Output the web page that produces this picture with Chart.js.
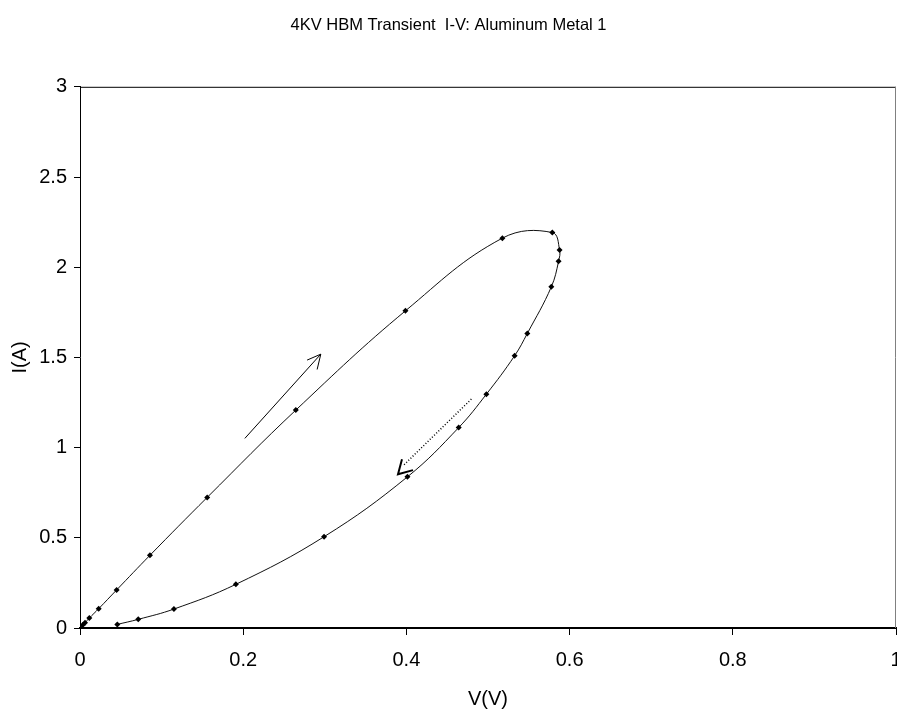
<!DOCTYPE html>
<html>
<head>
<meta charset="utf-8">
<script src="https://cdn.jsdelivr.net/npm/chart.js@4/dist/chart.umd.min.js"></script>
<style>
  html, body { margin: 0; padding: 0; background: #fff; overflow: hidden; }
  #wrap { width: 900px; height: 715px; }
</style>
</head>
<body>
<div id="wrap"><canvas id="c" width="900" height="715"></canvas></div>
<script>
// Measured I-V loop (V in volts, I in amps), in drawing order
const voltage = [0, 0.0033, 0.0061, 0.0114, 0.0229, 0.0449, 0.0857, 0.1559, 0.2645, 0.3988,
  0.5176, 0.5788, 0.5877, 0.5865, 0.5776, 0.5482, 0.5326, 0.4980, 0.4641, 0.4013,
  0.2991, 0.1910, 0.1151, 0.0714, 0.0457];
const current = [0, 0.017, 0.029, 0.055, 0.107, 0.211, 0.403, 0.724, 1.208, 1.758,
  2.161, 2.192, 2.096, 2.033, 1.891, 1.633, 1.509, 1.296, 1.111, 0.838,
  0.506, 0.242, 0.105, 0.048, 0.020];

// Direction arrows (data coordinates)
const upArrowV = [0.2020, 0.2951];
const upArrowI = [1.051, 1.518];
const upHeadV = [0.2783, 0.2951, 0.2906];
const upHeadI = [1.485, 1.518, 1.433];
const downArrowV = [0.4796, 0.3967];
const downArrowI = [1.269, 0.903];
const downHeadV = [0.3946, 0.3897, 0.4081];
const downHeadI = [0.936, 0.852, 0.875];

const xTicks = [0, 0.2, 0.4, 0.6, 0.8, 1];
const xTickLabels = ['0', '0.2', '0.4', '0.6', '0.8', '1'];
const yTicks = [0, 0.5, 1, 1.5, 2, 2.5, 3];
const yTickLabels = ['0', '0.5', '1', '1.5', '2', '2.5', '3'];

const pts = (xs, ys) => xs.map((x, i) => ({ x: x, y: ys[i] }));
const FONT = 'Liberation Sans, Arial, sans-serif';

const borderPlugin = {
  id: 'plotBorder',
  afterDraw(chart) {
    const a = chart.chartArea, ctx = chart.ctx;
    ctx.save();
    ctx.lineWidth = 1;
    ctx.strokeStyle = '#000';
    ctx.beginPath();
    ctx.moveTo(a.left, a.top + 0.5);
    ctx.lineTo(a.right, a.top + 0.5);
    ctx.stroke();
    ctx.strokeStyle = '#808080';
    ctx.beginPath();
    ctx.moveTo(a.right - 0.5, a.top);
    ctx.lineTo(a.right - 0.5, a.bottom);
    ctx.stroke();
    ctx.restore();
  }
};

const lineDs = (data, extra) => Object.assign({
  data: data, showLine: true, tension: 0, pointRadius: 0,
  borderColor: '#000', borderWidth: 1, fill: false
}, extra || {});

new Chart(document.getElementById('c'), {
  type: 'scatter',
  data: {
    datasets: [
      {
        data: pts(voltage, current),
        showLine: true,
        tension: 0.4,
        borderColor: '#111',
        borderWidth: 1,
        pointStyle: 'rectRot',
        pointRadius: 3,
        pointBackgroundColor: '#000',
        pointBorderColor: '#000',
        pointBorderWidth: 0,
        fill: false
      },
      lineDs(pts(upArrowV, upArrowI)),
      lineDs(pts(upHeadV, upHeadI)),
      lineDs(pts(downArrowV, downArrowI), { borderDash: [1, 2], borderWidth: 1.5 }),
      lineDs(pts(downHeadV, downHeadI), { borderWidth: 2 })
    ]
  },
  options: {
    responsive: false,
    animation: false,
    events: [],
    layout: { padding: { left: 0, right: 3, top: 0, bottom: 0 } },
    plugins: {
      legend: { display: false },
      tooltip: { enabled: false },
      title: {
        display: true,
        text: '4KV HBM Transient  I-V: Aluminum Metal 1',
        color: '#000',
        font: { family: FONT, size: 16.5, weight: 'normal' },
        padding: { top: 16, bottom: 51 }
      }
    },
    scales: {
      x: {
        type: 'linear',
        min: 0, max: 1,
        afterBuildTicks(s) { s.ticks = xTicks.map(v => ({ value: v })); },
        afterFit(s) { s.height = 87; s.paddingLeft = 0; s.paddingRight = 0; },
        ticks: { color: '#000', padding: 13, maxRotation: 0, autoSkip: false,
          callback: (v, i) => xTickLabels[i],
          font: { family: FONT, size: 20 } },
        grid: { display: true, drawOnChartArea: false, drawTicks: true, tickLength: 7,
          color: '#000', lineWidth: 1 },
        border: { display: true, color: '#000', width: 2 },
        title: { display: true, text: 'V(V)', color: '#000',
          font: { family: FONT, size: 20 }, padding: { top: 0, bottom: 4 } }
      },
      y: {
        type: 'linear',
        min: 0, max: 3,
        afterBuildTicks(s) { s.ticks = yTicks.map(v => ({ value: v })); },
        afterFit(s) { s.width = 80; s.paddingTop = 0; s.paddingBottom = 0; },
        ticks: { color: '#000', padding: 7, autoSkip: false,
          callback: (v, i) => yTickLabels[i],
          font: { family: FONT, size: 20 } },
        grid: { display: true, drawOnChartArea: false, drawTicks: true, tickLength: 6,
          color: '#000', lineWidth: 1 },
        border: { display: true, color: '#000', width: 1 },
        title: { display: true, text: 'I(A)', color: '#000',
          font: { family: FONT, size: 20 }, padding: { top: 8, bottom: 0 } }
      }
    }
  },
  plugins: [borderPlugin]
});
</script>
</body>
</html>
